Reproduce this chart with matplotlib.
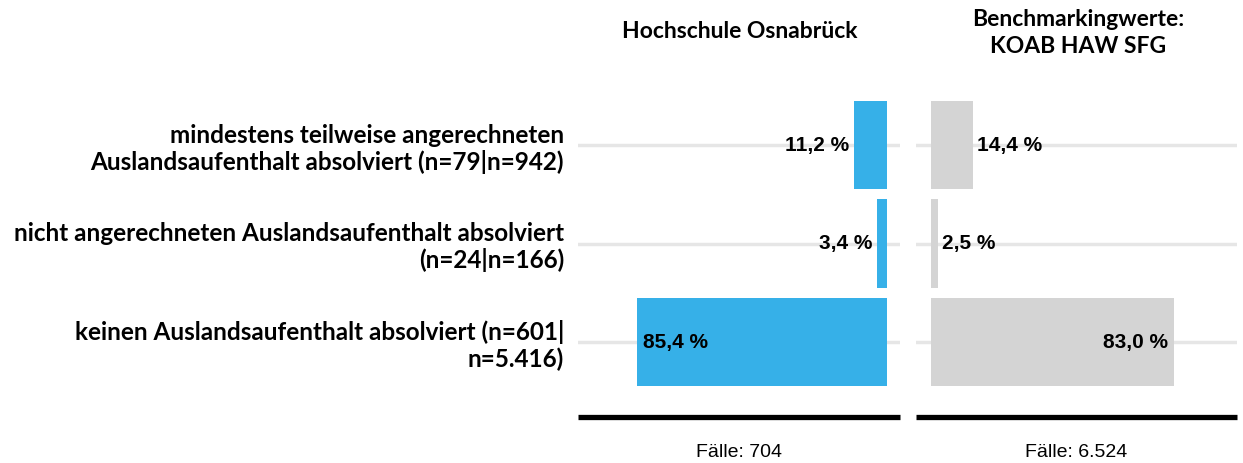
import matplotlib
matplotlib.use("Agg")
import matplotlib.pyplot as plt
from matplotlib.transforms import offset_copy

categories = [
    "mindestens teilweise angerechneten\nAuslandsaufenthalt absolviert (n=79|n=942)",
    "nicht angerechneten Auslandsaufenthalt absolviert\n(n=24|n=166)",
    "keinen Auslandsaufenthalt absolviert (n=601|\nn=5.416)",
]
hs_values = [11.2, 3.4, 85.4]
bm_values = [14.4, 2.5, 83.0]
hs_title = "Hochschule Osnabrück"
bm_title = "Benchmarkingwerte:\nKOAB HAW SFG"
hs_cases = "Fälle: 704"
bm_cases = "Fälle: 6.524"

W, H = 1243, 463
fig = plt.figure(figsize=(W / 100, H / 100), dpi=100)

BLUE = "#36b0e8"
GRAY = "#d4d4d4"
GRID = "#e6e6e6"
LABEL_FONT = "Lato"
NUM_FONT = "Liberation Sans"

def px_axes(x0, x1, y0, y1):
    return fig.add_axes([x0 / W, 1 - y1 / H, (x1 - x0) / W, (y1 - y0) / H])

top, bottom = 95, 417
ylim = (-0.508 + (bottom - top) / 98.5, -0.508)

ax1 = px_axes(578, 900, top, bottom)
ax2 = px_axes(916, 1237, top, bottom)

ypos = list(range(len(categories)))

def fmt(v):
    return f"{v:.1f}".replace(".", ",") + " %"

for ax, vals, color, title, cases, inverted in [
    (ax1, hs_values, BLUE, hs_title, hs_cases, True),
    (ax2, bm_values, GRAY, bm_title, bm_cases, False),
]:
    for y in ypos:
        ax.axhline(y, color=GRID, lw=2.5, zorder=0)
    ax.barh(ypos, vals, height=0.9, color=color, zorder=2)
    ax.set_ylim(*ylim)
    if inverted:
        ax.set_xlim(105.5, -4.4)
    else:
        ax.set_xlim(-5.1, 104.4)
    for s in ["top", "left", "right"]:
        ax.spines[s].set_visible(False)
    ax.spines["bottom"].set_linewidth(3.8)
    ax.spines["bottom"].set_color("black")
    ax.spines["bottom"].set_capstyle("butt")
    ax.set_xticks([])
    ax.tick_params(axis="y", length=0)
    for y, v in zip(ypos, vals):
        inside = v > 50
        if inverted:
            if inside:
                off, ha = 6, "left"
            else:
                off, ha = -5, "right"
        else:
            if inside:
                off, ha = -6, "right"
            else:
                off, ha = 4, "left"
        tr = offset_copy(ax.transData, fig=fig, x=off, y=0, units="dots")
        ax.text(v, y, fmt(v), transform=tr, ha=ha, va="center",
                fontsize=15, fontweight="bold", family=NUM_FONT, zorder=3)
    ax.text(0.5, -0.11, cases, transform=ax.transAxes, ha="center", va="center",
            fontsize=14, family=NUM_FONT)

ax1.set_yticks(ypos)
ax1.set_yticklabels(categories, fontsize=17.5, fontweight="bold", family=LABEL_FONT,
                    linespacing=1.15)
ax1.tick_params(axis="y", pad=10)
ax2.set_yticks([])

fig.text(740 / W, 1 - 32 / H, hs_title, ha="center", va="center", fontsize=16.5,
         fontweight="bold", family=LABEL_FONT)
fig.text(1078 / W, 1 - 33 / H, bm_title, ha="center", va="center", fontsize=16.5,
         fontweight="bold", family=LABEL_FONT, linespacing=1.3)

fig.savefig("out.png", dpi=100)
